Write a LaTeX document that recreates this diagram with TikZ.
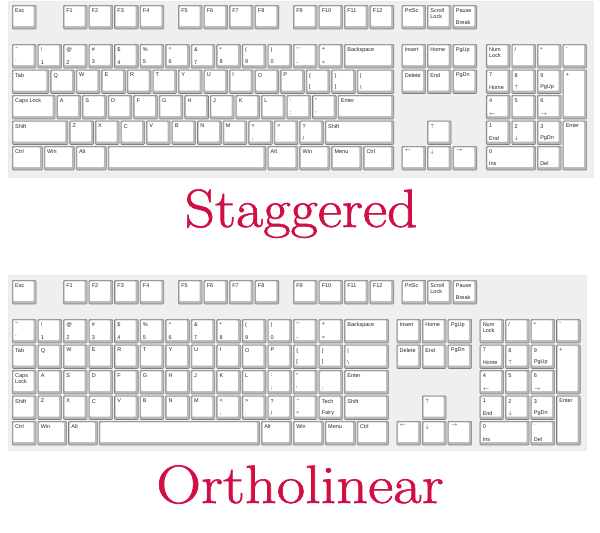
\documentclass[tikz,border=0pt]{standalone}
\usepackage{fontspec}
\newfontfamily\keyfont{Liberation Sans}
\newfontfamily\titlefont{Latin Modern Roman}[FakeBold=1.1]
\definecolor{crimson}{HTML}{D01044}
\definecolor{kbbg}{HTML}{EFEFEF}
\newcommand\klab{\keyfont\fontsize{5.5}{6}\selectfont}
\tikzset{
  keyb/.style={anchor=north west, draw=black!50, line width=0.55pt, fill=black!28,
    rounded corners=1pt, inner sep=0pt,
    path picture={\fill[white] ([shift={(1.2pt,-1.2pt)}]path picture bounding box.north west)
      rectangle ([shift={(-2.5pt,2.8pt)}]path picture bounding box.south east);}},
  ktop/.style={anchor=north west, inner sep=0pt, font=\klab, align=left, text=black!85},
  kbot/.style={anchor=south west, inner sep=0pt, font=\klab, align=left, text=black!85},
  title/.style={anchor=base, inner sep=0pt, text=crimson, font=\titlefont\fontsize{54}{60}\selectfont},
  board/.style={fill=kbbg, draw=black!8}
}
% name, column (units), top y (px), width (units), height (units), top label, bottom label
\newcommand\Kk[7]{%
  \node[keyb, minimum width={#4*25.55pt-1.8pt}, minimum height={#5*25.5pt-1.8pt}] (#1) at ({12+#2*25.55},{#3}) {};
  \node[ktop] at ([shift={(3pt,-3.5pt)}]#1.north west) {#6};
  \node[kbot] at ([shift={(3pt,4pt)}]#1.south west) {#7};
}
\begin{document}
\begin{tikzpicture}[x=1pt,y=-1pt]
\useasboundingbox (0,0) rectangle (600,533);
\fill[white] (0,0) rectangle (600,533);
% ================= STAGGERED =================
\node[board, anchor=north west, minimum width=585pt, minimum height=176pt, inner sep=0pt] (sboard) at (8,1) {};
% function row
\Kk{s-esc}{0}{5}{1}{1}{Esc}{}
\Kk{s-f1}{2}{5}{1}{1}{F1}{}
\Kk{s-f2}{3}{5}{1}{1}{F2}{}
\Kk{s-f3}{4}{5}{1}{1}{F3}{}
\Kk{s-f4}{5}{5}{1}{1}{F4}{}
\Kk{s-f5}{6.5}{5}{1}{1}{F5}{}
\Kk{s-f6}{7.5}{5}{1}{1}{F6}{}
\Kk{s-f7}{8.5}{5}{1}{1}{F7}{}
\Kk{s-f8}{9.5}{5}{1}{1}{F8}{}
\Kk{s-f9}{11}{5}{1}{1}{F9}{}
\Kk{s-f10}{12}{5}{1}{1}{F10}{}
\Kk{s-f11}{13}{5}{1}{1}{F11}{}
\Kk{s-f12}{14}{5}{1}{1}{F12}{}
\Kk{s-prt}{15.25}{5}{1}{1}{PrtSc}{}
\Kk{s-scr}{16.25}{5}{1}{1}{Scroll\\Lock}{}
\Kk{s-pau}{17.25}{5}{1}{1}{Pause}{Break}
% number row
\Kk{s-grave}{0}{44}{1}{1}{\textasciitilde}{\textasciigrave}
\Kk{s-1}{1}{44}{1}{1}{!}{1}
\Kk{s-2}{2}{44}{1}{1}{@}{2}
\Kk{s-3}{3}{44}{1}{1}{\#}{3}
\Kk{s-4}{4}{44}{1}{1}{\$}{4}
\Kk{s-5}{5}{44}{1}{1}{\%}{5}
\Kk{s-6}{6}{44}{1}{1}{\textasciicircum}{6}
\Kk{s-7}{7}{44}{1}{1}{\&}{7}
\Kk{s-8}{8}{44}{1}{1}{*}{8}
\Kk{s-9}{9}{44}{1}{1}{(}{9}
\Kk{s-0}{10}{44}{1}{1}{)}{0}
\Kk{s-minus}{11}{44}{1}{1}{\_}{-}
\Kk{s-eq}{12}{44}{1}{1}{+}{=}
\Kk{s-bksp}{13}{44}{2}{1}{Backspace}{}
% tab row
\Kk{s-tab}{0}{69.5}{1.5}{1}{Tab}{}
\Kk{s-q}{1.5}{69.5}{1}{1}{Q}{}
\Kk{s-w}{2.5}{69.5}{1}{1}{W}{}
\Kk{s-e}{3.5}{69.5}{1}{1}{E}{}
\Kk{s-r}{4.5}{69.5}{1}{1}{R}{}
\Kk{s-t}{5.5}{69.5}{1}{1}{T}{}
\Kk{s-y}{6.5}{69.5}{1}{1}{Y}{}
\Kk{s-u}{7.5}{69.5}{1}{1}{U}{}
\Kk{s-i}{8.5}{69.5}{1}{1}{I}{}
\Kk{s-o}{9.5}{69.5}{1}{1}{O}{}
\Kk{s-p}{10.5}{69.5}{1}{1}{P}{}
\Kk{s-lbr}{11.5}{69.5}{1}{1}{\{}{[}
\Kk{s-rbr}{12.5}{69.5}{1}{1}{\}}{]}
\Kk{s-bsl}{13.5}{69.5}{1.5}{1}{|}{\textbackslash}
% caps row
\Kk{s-caps}{0}{95}{1.75}{1}{Caps Lock}{}
\Kk{s-a}{1.75}{95}{1}{1}{A}{}
\Kk{s-s}{2.75}{95}{1}{1}{S}{}
\Kk{s-d}{3.75}{95}{1}{1}{D}{}
\Kk{s-f}{4.75}{95}{1}{1}{F}{}
\Kk{s-g}{5.75}{95}{1}{1}{G}{}
\Kk{s-h}{6.75}{95}{1}{1}{H}{}
\Kk{s-j}{7.75}{95}{1}{1}{J}{}
\Kk{s-k}{8.75}{95}{1}{1}{K}{}
\Kk{s-l}{9.75}{95}{1}{1}{L}{}
\Kk{s-semi}{10.75}{95}{1}{1}{:}{;}
\Kk{s-quote}{11.75}{95}{1}{1}{"}{\textquotesingle}
\Kk{s-enter}{12.75}{95}{2.25}{1}{Enter}{}
% shift row
\Kk{s-lsh}{0}{120.5}{2.25}{1}{Shift}{}
\Kk{s-z}{2.25}{120.5}{1}{1}{Z}{}
\Kk{s-x}{3.25}{120.5}{1}{1}{X}{}
\Kk{s-c}{4.25}{120.5}{1}{1}{C}{}
\Kk{s-v}{5.25}{120.5}{1}{1}{V}{}
\Kk{s-b}{6.25}{120.5}{1}{1}{B}{}
\Kk{s-n}{7.25}{120.5}{1}{1}{N}{}
\Kk{s-m}{8.25}{120.5}{1}{1}{M}{}
\Kk{s-comma}{9.25}{120.5}{1}{1}{<}{,}
\Kk{s-dot}{10.25}{120.5}{1}{1}{>}{.}
\Kk{s-slash}{11.25}{120.5}{1}{1}{?}{/}
\Kk{s-rsh}{12.25}{120.5}{2.75}{1}{Shift}{}
% bottom row
\Kk{s-lctrl}{0}{146}{1.25}{1}{Ctrl}{}
\Kk{s-lwin}{1.25}{146}{1.25}{1}{Win}{}
\Kk{s-lalt}{2.5}{146}{1.25}{1}{Alt}{}
\Kk{s-space}{3.75}{146}{6.25}{1}{}{}
\Kk{s-ralt}{10}{146}{1.25}{1}{Alt}{}
\Kk{s-rwin}{11.25}{146}{1.25}{1}{Win}{}
\Kk{s-menu}{12.5}{146}{1.25}{1}{Menu}{}
\Kk{s-rctrl}{13.75}{146}{1.25}{1}{Ctrl}{}
% navigation
\Kk{s-ins}{15.25}{44}{1}{1}{Insert}{}
\Kk{s-home}{16.25}{44}{1}{1}{Home}{}
\Kk{s-pgup}{17.25}{44}{1}{1}{PgUp}{}
\Kk{s-del}{15.25}{69.5}{1}{1}{Delete}{}
\Kk{s-end}{16.25}{69.5}{1}{1}{End}{}
\Kk{s-pgdn}{17.25}{69.5}{1}{1}{PgDn}{}
\Kk{s-up}{16.25}{120.5}{1}{1}{$\uparrow$}{}
\Kk{s-left}{15.25}{146}{1}{1}{$\leftarrow$}{}
\Kk{s-down}{16.25}{146}{1}{1}{$\downarrow$}{}
\Kk{s-right}{17.25}{146}{1}{1}{$\rightarrow$}{}
% numpad
\Kk{s-num}{18.55}{44}{1}{1}{Num\\Lock}{}
\Kk{s-ndiv}{19.55}{44}{1}{1}{/}{}
\Kk{s-nmul}{20.55}{44}{1}{1}{*}{}
\Kk{s-nsub}{21.55}{44}{1}{1}{-}{}
\Kk{s-n7}{18.55}{69.5}{1}{1}{7}{Home}
\Kk{s-n8}{19.55}{69.5}{1}{1}{8}{$\uparrow$}
\Kk{s-n9}{20.55}{69.5}{1}{1}{9}{PgUp}
\Kk{s-nadd}{21.55}{69.5}{1}{2}{+}{}
\Kk{s-n4}{18.55}{95}{1}{1}{4}{$\leftarrow$}
\Kk{s-n5}{19.55}{95}{1}{1}{5}{}
\Kk{s-n6}{20.55}{95}{1}{1}{6}{$\rightarrow$}
\Kk{s-n1}{18.55}{120.5}{1}{1}{1}{End}
\Kk{s-n2}{19.55}{120.5}{1}{1}{2}{$\downarrow$}
\Kk{s-n3}{20.55}{120.5}{1}{1}{3}{PgDn}
\Kk{s-nent}{21.55}{120.5}{1}{2}{Enter}{}
\Kk{s-n0}{18.55}{146}{2}{1}{0}{Ins}
\Kk{s-ndot}{20.55}{146}{1}{1}{.}{Del}
\node[title] (t-stag) at (301,227) {\scalebox{1.1}[1]{Staggered}};
% ================= ORTHOLINEAR =================
\node[board, anchor=north west, minimum width=578pt, minimum height=175pt, inner sep=0pt] (oboard) at (8,275) {};
\Kk{o-esc}{0}{280}{1}{1}{Esc}{}
\Kk{o-f1}{2}{280}{1}{1}{F1}{}
\Kk{o-f2}{3}{280}{1}{1}{F2}{}
\Kk{o-f3}{4}{280}{1}{1}{F3}{}
\Kk{o-f4}{5}{280}{1}{1}{F4}{}
\Kk{o-f5}{6.5}{280}{1}{1}{F5}{}
\Kk{o-f6}{7.5}{280}{1}{1}{F6}{}
\Kk{o-f7}{8.5}{280}{1}{1}{F7}{}
\Kk{o-f8}{9.5}{280}{1}{1}{F8}{}
\Kk{o-f9}{11}{280}{1}{1}{F9}{}
\Kk{o-f10}{12}{280}{1}{1}{F10}{}
\Kk{o-f11}{13}{280}{1}{1}{F11}{}
\Kk{o-f12}{14}{280}{1}{1}{F12}{}
\Kk{o-prt}{15.25}{280}{1}{1}{PrtSc}{}
\Kk{o-scr}{16.25}{280}{1}{1}{Scroll\\Lock}{}
\Kk{o-pau}{17.25}{280}{1}{1}{Pause}{Break}
% number row
\Kk{o-grave}{0}{319}{1}{1}{\textasciitilde}{\textasciigrave}
\Kk{o-1}{1}{319}{1}{1}{!}{1}
\Kk{o-2}{2}{319}{1}{1}{@}{2}
\Kk{o-3}{3}{319}{1}{1}{\#}{3}
\Kk{o-4}{4}{319}{1}{1}{\$}{4}
\Kk{o-5}{5}{319}{1}{1}{\%}{5}
\Kk{o-6}{6}{319}{1}{1}{\textasciicircum}{6}
\Kk{o-7}{7}{319}{1}{1}{\&}{7}
\Kk{o-8}{8}{319}{1}{1}{*}{8}
\Kk{o-9}{9}{319}{1}{1}{(}{9}
\Kk{o-0}{10}{319}{1}{1}{)}{0}
\Kk{o-minus}{11}{319}{1}{1}{\_}{-}
\Kk{o-eq}{12}{319}{1}{1}{+}{=}
\Kk{o-bksp}{13}{319}{1.8}{1}{Backspace}{}
% tab row
\Kk{o-tab}{0}{344.5}{1}{1}{Tab}{}
\Kk{o-q}{1}{344.5}{1}{1}{Q}{}
\Kk{o-w}{2}{344.5}{1}{1}{W}{}
\Kk{o-e}{3}{344.5}{1}{1}{E}{}
\Kk{o-r}{4}{344.5}{1}{1}{R}{}
\Kk{o-t}{5}{344.5}{1}{1}{T}{}
\Kk{o-y}{6}{344.5}{1}{1}{Y}{}
\Kk{o-u}{7}{344.5}{1}{1}{U}{}
\Kk{o-i}{8}{344.5}{1}{1}{I}{}
\Kk{o-o}{9}{344.5}{1}{1}{O}{}
\Kk{o-p}{10}{344.5}{1}{1}{P}{}
\Kk{o-lbr}{11}{344.5}{1}{1}{\{}{[}
\Kk{o-rbr}{12}{344.5}{1}{1}{\}}{]}
\Kk{o-bsl}{13}{344.5}{1.8}{1}{|}{\textbackslash}
% caps row
\Kk{o-caps}{0}{370}{1}{1}{Caps\\Lock}{}
\Kk{o-a}{1}{370}{1}{1}{A}{}
\Kk{o-s}{2}{370}{1}{1}{S}{}
\Kk{o-d}{3}{370}{1}{1}{D}{}
\Kk{o-f}{4}{370}{1}{1}{F}{}
\Kk{o-g}{5}{370}{1}{1}{G}{}
\Kk{o-h}{6}{370}{1}{1}{H}{}
\Kk{o-j}{7}{370}{1}{1}{J}{}
\Kk{o-k}{8}{370}{1}{1}{K}{}
\Kk{o-l}{9}{370}{1}{1}{L}{}
\Kk{o-semi}{10}{370}{1}{1}{:}{;}
\Kk{o-quote}{11}{370}{1}{1}{"}{\textquotesingle}
\Kk{o-extra}{12}{370}{1}{1}{}{:}
\Kk{o-enter}{13}{370}{1.8}{1}{Enter}{}
% shift row
\Kk{o-lsh}{0}{395.5}{1}{1}{Shift}{}
\Kk{o-z}{1}{395.5}{1}{1}{Z}{}
\Kk{o-x}{2}{395.5}{1}{1}{X}{}
\Kk{o-c}{3}{395.5}{1}{1}{C}{}
\Kk{o-v}{4}{395.5}{1}{1}{V}{}
\Kk{o-b}{5}{395.5}{1}{1}{B}{}
\Kk{o-n}{6}{395.5}{1}{1}{N}{}
\Kk{o-m}{7}{395.5}{1}{1}{M}{}
\Kk{o-comma}{8}{395.5}{1}{1}{<}{,}
\Kk{o-dot}{9}{395.5}{1}{1}{>}{.}
\Kk{o-slash}{10}{395.5}{1}{1}{?}{/}
\Kk{o-tilde}{11}{395.5}{1}{1}{\textasciitilde}{\textasciicircum}
\Kk{o-tech}{12}{395.5}{1}{1}{Tech}{Fairy}
\Kk{o-rsh}{13}{395.5}{1.8}{1}{Shift}{}
% bottom row
\Kk{o-lctrl}{0}{421}{1}{1}{Ctrl}{}
\Kk{o-lwin}{1}{421}{1.2}{1}{Win}{}
\Kk{o-lalt}{2.2}{421}{1.2}{1}{Alt}{}
\Kk{o-space}{3.4}{421}{6.35}{1}{}{}
\Kk{o-ralt}{9.75}{421}{1.25}{1}{Alt}{}
\Kk{o-rwin}{11}{421}{1.25}{1}{Win}{}
\Kk{o-menu}{12.25}{421}{1.25}{1}{Menu}{}
\Kk{o-rctrl}{13.5}{421}{1.3}{1}{Ctrl}{}
% navigation
\Kk{o-ins}{15.05}{319}{1}{1}{Insert}{}
\Kk{o-home}{16.05}{319}{1}{1}{Home}{}
\Kk{o-pgup}{17.05}{319}{1}{1}{PgUp}{}
\Kk{o-del}{15.05}{344.5}{1}{1}{Delete}{}
\Kk{o-end}{16.05}{344.5}{1}{1}{End}{}
\Kk{o-pgdn}{17.05}{344.5}{1}{1}{PgDn}{}
\Kk{o-up}{16.05}{395.5}{1}{1}{$\uparrow$}{}
\Kk{o-left}{15.05}{421}{1}{1}{$\leftarrow$}{}
\Kk{o-down}{16.05}{421}{1}{1}{$\downarrow$}{}
\Kk{o-right}{17.05}{421}{1}{1}{$\rightarrow$}{}
% numpad
\Kk{o-num}{18.3}{319}{1}{1}{Num\\Lock}{}
\Kk{o-ndiv}{19.3}{319}{1}{1}{/}{}
\Kk{o-nmul}{20.3}{319}{1}{1}{*}{}
\Kk{o-nsub}{21.3}{319}{1}{1}{-}{}
\Kk{o-n7}{18.3}{344.5}{1}{1}{7}{Home}
\Kk{o-n8}{19.3}{344.5}{1}{1}{8}{$\uparrow$}
\Kk{o-n9}{20.3}{344.5}{1}{1}{9}{PgUp}
\Kk{o-nadd}{21.3}{344.5}{1}{2}{+}{}
\Kk{o-n4}{18.3}{370}{1}{1}{4}{$\leftarrow$}
\Kk{o-n5}{19.3}{370}{1}{1}{5}{}
\Kk{o-n6}{20.3}{370}{1}{1}{6}{$\rightarrow$}
\Kk{o-n1}{18.3}{395.5}{1}{1}{1}{End}
\Kk{o-n2}{19.3}{395.5}{1}{1}{2}{$\downarrow$}
\Kk{o-n3}{20.3}{395.5}{1}{1}{3}{PgDn}
\Kk{o-nent}{21.3}{395.5}{1}{2}{Enter}{}
\Kk{o-n0}{18.3}{421}{2}{1}{0}{Ins}
\Kk{o-ndot}{20.3}{421}{1}{1}{.}{Del}
\node[title] (t-orth) at (300,503) {\scalebox{1.15}[1]{Ortholinear}};
\end{tikzpicture}
\end{document}
